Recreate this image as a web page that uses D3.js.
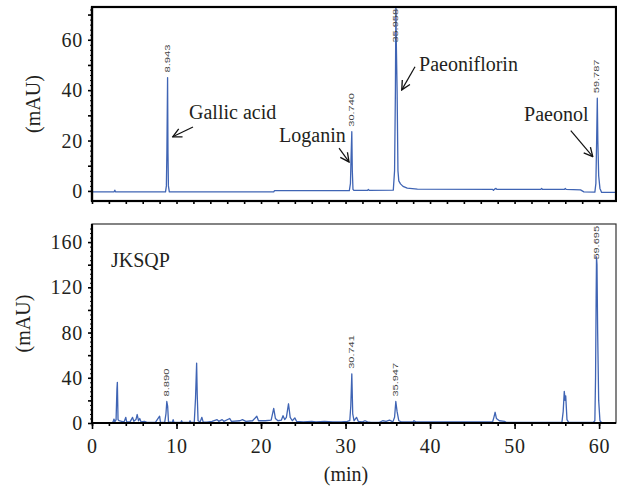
<!DOCTYPE html>
<html>
<head>
<meta charset="utf-8">
<script src="https://cdn.jsdelivr.net/npm/d3@7"></script>
<style>
  body { margin: 0; background: #fff; }
  svg { display: block; }
  .serif { font-family: "Liberation Serif", "Times New Roman", serif; fill: #231f20; }
  .rt { font-family: "Liberation Sans", Arial, sans-serif; fill: #444; }
</style>
</head>
<body>
<svg id="chart" width="617" height="487"></svg>
<script>
// ---- data: [time (min), absorbance (mAU)] ----
var timeTicks = [0, 10, 20, 30, 40, 50, 60];
var stdTicks = [0, 20, 40, 60];
var sampleTicks = [0, 40, 80, 120, 160];

// top: mixed standards
var stdTrace = [
  [0,-0.4],[2.6,-0.4],[2.7,0.3],[2.8,-0.4],[8.7,-0.4],[8.8,2],[8.86,15],[8.943,45],[8.99,15],[9.04,2],
  [9.15,-0.4],[21.5,-0.4],[21.6,0.1],[30.45,0.1],[30.58,3],[30.66,14],[30.74,23.5],[30.8,8],[30.88,0.6],
  [31.0,0.2],[32.6,0.2],[32.7,0.6],[32.8,0.2],[35.65,0.3],[35.8,8],[35.9,40],[35.958,75],[36.0,60],
  [36.1,40],[36.2,8],[36.3,4],[36.5,2.8],[36.8,1.8],[37.3,1.1],[38.5,0.7],[47.4,0.6],[47.5,0.2],
  [47.6,0.6],[47.8,1],[47.9,0.6],[53.1,0.6],[53.2,1],[53.3,0.6],[55.9,0.6],[56,1],[56.1,0.6],
  [57.8,0.4],[58.2,-0.4],[59.5,-0.5],[59.62,3],[59.7,18],[59.787,36.8],[59.85,20],[59.95,6],
  [60.1,1],[60.3,-0.6],[62,-0.6]
];
var stdPeaks = [[8.943, 45, "8.943"], [30.740, 23.5, "30.740"], [35.958, 75, "35.958"], [59.787, 36.8, "59.787"]];

// annotation text position and arrow (from -> to), all in data units
var stdNames = ["Gallic acid", "Loganin", "Paeoniflorin", "Paeonol"];
var stdTextAt = [[11.48, 28.5], [22.13, 19.6], [38.7, 47.6], [51.12, 27.6]];
var stdArrows = [
  [[11.95, 25.4], [9.55, 21.5]],
  [[29.23, 17.0], [30.41, 11.5]],
  [[38.22, 49.3], [36.65, 40.1]],
  [[56.65, 23.9], [59.25, 13.6]]
];

// bottom: JKSQP sample
var sampleTrace = [
  [0,0],[2.3,0],[2.5,1],[2.6,3.5],[2.7,1],[2.85,3],[2.95,30],[3.0,36],[3.08,3],[3.2,2],[3.5,1.5],
  [3.8,1],[4.0,5],[4.1,1],[4.5,1],[4.8,5],[4.95,1.5],[5.2,3],[5.35,7.5],[5.5,2],[5.65,4],[5.8,1],
  [6.2,1.5],[6.5,0.5],[7.5,0.5],[8.0,6],[8.1,0.8],[8.6,0.5],[8.75,8],[8.85,19],[8.95,15],[9.05,1],
  [9.5,0.5],[9.6,3],[9.7,0.5],[10.5,0.5],[10.6,2],[10.7,0.5],[11.5,0.5],[11.6,2],[11.7,0.5],
  [12.1,0.6],[12.25,22],[12.38,53],[12.45,25],[12.55,2],[12.8,1],[13.0,5],[13.15,1],[13.6,0.8],
  [14.2,1.5],[14.8,3],[15.0,1.5],[15.4,3],[15.6,1.5],[16.3,4],[16.5,1.5],[17.5,2],[17.8,3],
  [18.2,1.5],[19.0,2],[19.5,6],[19.7,2],[20.5,2],[21.2,2.5],[21.5,13],[21.7,4],[22.0,2],[22.4,2.5],
  [22.6,6.5],[22.8,3],[23.0,5],[23.25,17],[23.45,5],[23.7,2],[24.0,4.5],[24.2,1.5],[25,1],[26,1.5],
  [26.5,1],[27.5,1.5],[28.5,1],[29.5,1],[30.2,1.5],[30.5,2],[30.62,15],[30.741,43.5],[30.85,8],
  [31.0,2],[31.3,5],[31.5,1.5],[32,1],[32.3,2],[32.6,1],[33,0.5],[34,0.5],[34.4,2],[34.8,1.5],
  [35.2,2.5],[35.6,1],[35.8,5],[35.947,19],[36.1,10],[36.3,2],[36.6,1],[38,1],[38.1,2],[38.3,1],
  [47.4,1],[47.55,5],[47.7,9.5],[47.85,4],[48.2,2],[48.8,1.5],[49,0.6],[55.6,0.6],[55.75,10],
  [55.88,28],[55.98,20],[56.05,24],[56.2,3],[56.4,0.6],[59.3,0.5],[59.5,2],[59.58,40],[59.65,110],
  [59.695,147],[59.75,140],[59.83,80],[59.95,20],[60.1,2],[60.3,0.3],[62,0.3]
];
var samplePeaks = [[8.890, 19, "8.890"], [30.741, 43.5, "30.741"], [35.947, 19, "35.947"], [59.695, 147, "59.695"]];
var sampleName = "JKSQP";
var sampleTextAt = [2.25, 138.4];

// ---- layout ----
var svg = d3.select("#chart");
var left = 92, right = 616;
var blue = "#3f64b4";

var x = d3.scaleLinear().domain([0, 62]).range([left, right]);
var yTop = d3.scaleLinear().domain([-4, 73]).range([201, 7]);
var yBot = d3.scaleLinear().domain([0, 176]).range([423, 224]);

var defs = svg.append("defs");
defs.append("marker")
    .attr("id", "arrow")
    .attr("viewBox", "0 0 10 10")
    .attr("refX", 9).attr("refY", 5)
    .attr("markerWidth", 11).attr("markerHeight", 11)
    .attr("markerUnits", "userSpaceOnUse")
    .attr("orient", "auto")
  .append("path")
    .attr("d", "M1,1 L9,5 L1,9")
    .attr("fill", "none")
    .attr("stroke", "#111")
    .attr("stroke-width", 1.2);

function clip(id, y) {
    defs.append("clipPath").attr("id", id)
      .append("rect")
        .attr("x", left).attr("y", y.range()[1])
        .attr("width", right - left).attr("height", y.range()[0] - y.range()[1]);
}
clip("clipTop", yTop);
clip("clipBot", yBot);

function drawPanel(y, trace, peaks, clipId, yTicks, minorY, majorY, thickFrame) {
    var g = svg.append("g");

    // trace
    var line = d3.line().x(function(d) { return x(d[0]); }).y(function(d) { return y(d[1]); });
    g.append("path")
        .datum(trace)
        .attr("clip-path", "url(#" + clipId + ")")
        .attr("d", line)
        .attr("fill", "none")
        .attr("stroke", blue)
        .attr("stroke-width", 1.3)
        .attr("stroke-linejoin", "round");

    // retention time labels, vertical
    var yMin = y.range()[1];
    peaks.forEach(function(p) {
        var len = p[2].length * 5.6;
        var yb = Math.max(y(p[1]) - 5, yMin + len + 2);
        g.append("text")
            .attr("class", "rt")
            .attr("transform", "translate(" + x(p[0]) + "," + yb + ") rotate(-90)")
            .attr("dominant-baseline", "middle")
            .attr("font-size", 8)
            .attr("textLength", len)
            .attr("lengthAdjust", "spacingAndGlyphs")
            .text(p[2]);
    });

    // frame
    var y0 = y.range()[0], y1 = y.range()[1];
    g.append("rect")
        .attr("x", left).attr("y", y1)
        .attr("width", right - left).attr("height", y0 - y1)
        .attr("fill", "none")
        .attr("stroke", thickFrame ? "#000" : "#333")
        .attr("stroke-width", thickFrame ? 2.2 : 1.2);

    // left axis: tiny and major ticks
    var ax = g.append("g").attr("transform", "translate(" + left + ",0)");
    ax.call(d3.axisLeft(y).tickValues(d3.range(0, y.domain()[1], minorY)).tickSize(2).tickFormat(""));
    ax.select(".domain").remove();
    var ax2 = g.append("g").attr("transform", "translate(" + left + ",0)");
    ax2.call(d3.axisLeft(y).tickValues(d3.range(0, y.domain()[1], majorY)).tickSize(4).tickFormat(""));
    ax2.select(".domain").attr("stroke-width", 2.2).attr("d", "M0," + y0 + "V" + y1);
    ax2.selectAll(".tick line").attr("stroke-width", 1.6);

    g.selectAll(".ylab")
        .data(yTicks)
        .enter().append("text")
        .attr("class", "serif")
        .attr("x", left - 9)
        .attr("y", function(d) { return y(d); })
        .attr("dy", "0.35em")
        .attr("text-anchor", "end")
        .attr("font-size", 20)
        .attr("letter-spacing", 0.8)
        .text(function(d) { return d; });

    // bottom axis ticks
    var bx = g.append("g").attr("transform", "translate(0," + y0 + ")");
    bx.call(d3.axisBottom(x).tickValues(d3.range(0, 62, 2)).tickSize(3).tickFormat(""));
    bx.select(".domain").attr("stroke-width", 2.2).attr("d", "M" + left + ",0H" + right);
    bx.selectAll(".tick line").attr("stroke-width", 1.6);
    return g;
}

// top panel
var topPanel = drawPanel(yTop, stdTrace, stdPeaks, "clipTop", stdTicks, 2, 10, true);

topPanel.selectAll(".name")
    .data(stdNames)
    .enter().append("text")
    .attr("class", "serif")
    .attr("x", function(d, i) { return x(stdTextAt[i][0]); })
    .attr("y", function(d, i) { return yTop(stdTextAt[i][1]); })
    .attr("font-size", 20)
    .text(function(d) { return d; });

topPanel.selectAll(".arr")
    .data(stdArrows)
    .enter().append("line")
    .attr("x1", function(d) { return x(d[0][0]); })
    .attr("y1", function(d) { return yTop(d[0][1]); })
    .attr("x2", function(d) { return x(d[1][0]); })
    .attr("y2", function(d) { return yTop(d[1][1]); })
    .attr("stroke", "#111")
    .attr("stroke-width", 1.2)
    .attr("marker-end", "url(#arrow)");

topPanel.append("text")
    .attr("class", "serif")
    .attr("transform", "translate(35," + (yTop(-4) + yTop(73)) / 2 + ") rotate(-90)")
    .attr("text-anchor", "middle")
    .attr("dominant-baseline", "middle")
    .attr("font-size", 20)
    .text("(mAU)");

// bottom panel
var botPanel = drawPanel(yBot, sampleTrace, samplePeaks, "clipBot", sampleTicks, 4, 20, false);

// longer ticks at labelled minutes
var bx2 = botPanel.append("g").attr("transform", "translate(0," + yBot.range()[0] + ")");
bx2.call(d3.axisBottom(x).tickValues(timeTicks).tickSize(6).tickPadding(10).tickFormat(function(d) { return d; }));
bx2.select(".domain").remove();
bx2.selectAll(".tick line").attr("stroke-width", 1.6);
bx2.selectAll(".tick text")
    .attr("class", "serif")
    .attr("font-size", 20)
    .attr("font-family", null)
    .attr("letter-spacing", 0.8)
    .attr("fill", "#231f20");

botPanel.append("text")
    .attr("class", "serif")
    .attr("x", x(sampleTextAt[0]))
    .attr("y", yBot(sampleTextAt[1]))
    .attr("font-size", 20)
    .text(sampleName);

botPanel.append("text")
    .attr("class", "serif")
    .attr("transform", "translate(25," + (yBot(0) + yBot(176)) / 2 + ") rotate(-90)")
    .attr("text-anchor", "middle")
    .attr("dominant-baseline", "middle")
    .attr("font-size", 20)
    .text("(mAU)");

botPanel.append("text")
    .attr("class", "serif")
    .attr("x", (x(0) + x(62)) / 2 - 8)
    .attr("y", 481)
    .attr("text-anchor", "middle")
    .attr("font-size", 20)
    .text("(min)");
</script>
</body>
</html>
